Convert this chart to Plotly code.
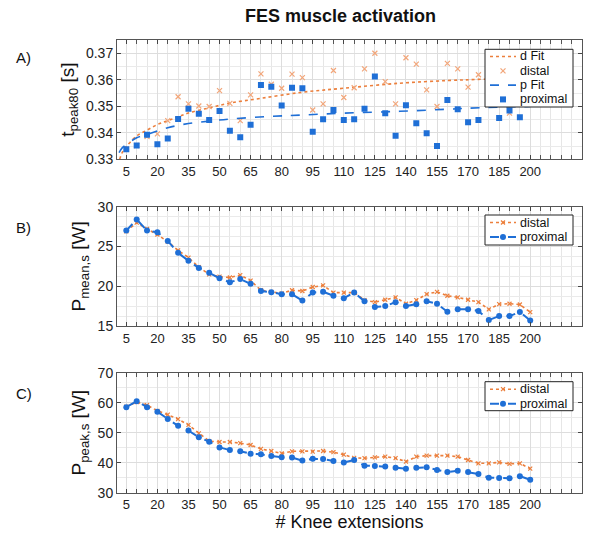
import plotly.graph_objects as go

# ---------------- data ----------------
knee = [5, 10, 15, 20, 25, 30, 35, 40, 45, 50, 55, 60, 65, 70, 75, 80, 85, 90, 95, 100,
        105, 110, 115, 120, 125, 130, 135, 140, 145, 150, 155, 160, 165, 170, 175, 180,
        185, 190, 195, 200]

# Panel A: t_peak80 [s]
t_distal = [0.3338, 0.3352, 0.3386, 0.3396, 0.3446, 0.3536, 0.3509, 0.3501, 0.3499, 0.3559,
            0.3511, 0.3446, 0.3543, 0.3622, 0.3583, 0.3568, 0.3621, 0.3608, 0.3486, 0.3509,
            0.3635, 0.3533, 0.3570, 0.3641, 0.3700, 0.3593, 0.3509, 0.3683, 0.3659, 0.3562,
            0.3499, 0.3662, 0.3641, 0.3572, 0.3619, 0.3580, 0.3620, 0.3474, 0.3560, 0.3600]
t_proximal = [0.3338, 0.3352, 0.3393, 0.3357, 0.3378, 0.3452, 0.3491, 0.3472, 0.3448, 0.3482,
              0.3408, 0.3383, 0.3430, 0.3580, 0.3574, 0.3503, 0.3570, 0.3568, 0.3404, 0.3451,
              0.3486, 0.3448, 0.3451, 0.3491, 0.3612, 0.3474, 0.3389, 0.3504, 0.3436, 0.3398,
              0.3350, 0.3524, 0.3489, 0.3440, 0.3448, 0.3520, 0.3456, 0.3484, 0.3459, 0.3550]

d_fit_x = [1.8, 3, 5, 10, 15, 20, 25, 30, 35, 45, 55, 70, 90, 110, 137, 160, 177, 200]
d_fit_y = [0.3300, 0.3325, 0.3348, 0.3388, 0.3410, 0.3431, 0.3446, 0.3460, 0.3475, 0.3494,
           0.3512, 0.3530, 0.3553, 0.3568, 0.3587, 0.3597, 0.3602, 0.3609]
p_fit_x = [1.5, 3, 5, 10, 15, 25, 35, 45, 55, 75, 90, 110, 137, 160, 177, 200]
p_fit_y = [0.3325, 0.3343, 0.3356, 0.3381, 0.3394, 0.3419, 0.3435, 0.3444, 0.3452, 0.3462,
           0.3467, 0.3474, 0.3481, 0.3489, 0.3495, 0.3499]

# Panel B: P_mean,s [W]
pm_distal = [26.9, 28.0, 27.2, 26.5, 25.6, 24.5, 23.6, 22.4, 21.5, 21.2,
             21.1, 21.4, 20.7, 19.5, 19.3, 19.1, 19.5, 19.4, 19.9, 20.1,
             19.2, 19.2, 19.2, 18.25, 18.0, 18.3, 18.6, 17.8, 18.25, 19.0,
             19.3, 18.8, 18.6, 18.3, 18.0, 17.1, 17.75, 17.8, 17.7, 16.75]
pm_proximal = [27.0, 28.4, 27.0, 26.8, 25.7, 24.2, 23.2, 22.3, 21.7, 21.0,
               20.5, 20.9, 20.3, 19.4, 19.25, 19.0, 19.0, 18.2, 19.2, 19.3,
               18.8, 18.5, 19.2, 18.1, 17.4, 17.5, 18.0, 17.5, 17.75, 18.1,
               17.8, 16.8, 17.1, 17.1, 16.9, 15.75, 16.25, 16.25, 16.75, 15.7]

# Panel C: P_peak,s [W]
pp_distal = [58.7, 60.2, 59.2, 57.3, 56.0, 54.5, 52.6, 49.8, 47.2, 46.9,
             46.9, 46.5, 45.9, 44.6, 43.9, 43.1, 43.8, 43.8, 43.7, 43.9,
             43.5, 42.7, 41.6, 41.5, 41.8, 42.0, 41.5, 40.35, 42.0, 42.35,
             42.35, 42.35, 42.0, 40.9, 39.8, 39.8, 40.1, 39.6, 39.8, 38.0]
pp_proximal = [58.5, 60.5, 58.5, 57.0, 54.6, 52.3, 50.7, 48.5, 47.0, 45.1,
               44.2, 43.8, 43.0, 42.8, 42.2, 41.8, 41.7, 40.7, 41.3, 41.2,
               40.6, 40.1, 40.9, 39.0, 38.9, 38.7, 38.35, 38.0, 38.35, 38.5,
               37.6, 36.9, 37.35, 36.9, 36.2, 35.0, 34.9, 34.8, 35.5, 34.3]

x_tickvals = [5, 20, 35, 50, 65, 80, 95, 110, 125, 140, 155, 170, 185, 200]

legend_a_names = ["d Fit", "distal", "p Fit", "proximal"]
legend_bc_names = ["distal", "proximal"]

# ---------------- styling ----------------
W, H = 600, 555
BLUE = "#1f6fd6"
ORANGE = "#ec7f3c"
ORANGE_LIGHT = "#f2a67a"
FONT = "Liberation Sans, Arial, sans-serif"


def px_x(p):
    return p / W


def px_y(p):
    return 1 - p / H


x_dom = [px_x(117), px_x(582)]
dom_a = [px_y(159.3), px_y(40)]
dom_b = [px_y(326), px_y(206.7)]
dom_c = [px_y(492.7), px_y(372.7)]

fig = go.Figure()

# Panel A
fig.add_trace(go.Scatter(x=d_fit_x, y=d_fit_y, mode="lines", name="d Fit",
                         line=dict(color=ORANGE, width=1.6, dash="dot", shape="spline"),
                         xaxis="x", yaxis="y"))
fig.add_trace(go.Scatter(x=knee, y=t_distal, mode="markers", name="distal",
                         marker=dict(symbol="x-thin", size=5, line=dict(color=ORANGE_LIGHT, width=1.2),
                                     color=ORANGE_LIGHT),
                         xaxis="x", yaxis="y"))
fig.add_trace(go.Scatter(x=p_fit_x, y=p_fit_y, mode="lines", name="p Fit",
                         line=dict(color=BLUE, width=1.6, dash="dash", shape="spline"),
                         xaxis="x", yaxis="y"))
fig.add_trace(go.Scatter(x=knee, y=t_proximal, mode="markers", name="proximal",
                         marker=dict(symbol="square", size=6, color=BLUE),
                         xaxis="x", yaxis="y"))

# Panel B
fig.add_trace(go.Scatter(x=knee, y=pm_distal, mode="lines+markers", name="distal",
                         line=dict(color=ORANGE, width=1.6, dash="dot"),
                         marker=dict(symbol="x-thin", size=4, line=dict(color=ORANGE, width=1.2)),
                         xaxis="x2", yaxis="y2"))
fig.add_trace(go.Scatter(x=knee, y=pm_proximal, mode="lines+markers", name="proximal",
                         line=dict(color=BLUE, width=2, dash="dash"),
                         marker=dict(symbol="circle", size=6, color=BLUE),
                         xaxis="x2", yaxis="y2"))

# Panel C
fig.add_trace(go.Scatter(x=knee, y=pp_distal, mode="lines+markers", name="distal",
                         line=dict(color=ORANGE, width=1.6, dash="dot"),
                         marker=dict(symbol="x-thin", size=4, line=dict(color=ORANGE, width=1.2)),
                         xaxis="x3", yaxis="y3"))
fig.add_trace(go.Scatter(x=knee, y=pp_proximal, mode="lines+markers", name="proximal",
                         line=dict(color=BLUE, width=2, dash="dash"),
                         marker=dict(symbol="circle", size=6, color=BLUE),
                         xaxis="x3", yaxis="y3"))


def xaxis_cfg(anchor, show_title=False):
    d = dict(domain=x_dom, anchor=anchor, range=[0.5, 225],
             tickmode="array", tickvals=x_tickvals, ticks="inside", ticklen=4,
             tickcolor="#444", showline=True, linecolor="#555", linewidth=1, mirror="allticks",
             showgrid=True, gridcolor="#dddddd", gridwidth=1,
             minor=dict(dtick=5, tick0=0, showgrid=True, gridcolor="#e6e6e6", ticks="inside",
                        ticklen=4, tickcolor="#555"),
             tickfont=dict(family=FONT, size=13, color="#222"), zeroline=False)
    if show_title:
        d["title"] = dict(text="# Knee extensions", font=dict(family=FONT, size=18, color="#111"),
                          standoff=4)
    return d


def yaxis_cfg(anchor, dom, rng, dtick, minor_dtick, title, tickformat=None):
    d = dict(domain=dom, anchor=anchor, range=rng, dtick=dtick, tick0=rng[0],
             ticks="inside", ticklen=4, tickcolor="#444",
             showline=True, linecolor="#555", linewidth=1, mirror="ticks",
             showgrid=True, gridcolor="#dddddd", gridwidth=1,
             minor=dict(dtick=minor_dtick, showgrid=True, gridcolor="#eaeaea"),
             tickfont=dict(family=FONT, size=14, color="#222"), zeroline=False,
             title=dict(text=title, font=dict(family=FONT, size=19, color="#111"), standoff=6))
    if tickformat:
        d["tickformat"] = tickformat
    return d


# ---------------- hand-drawn Matlab-style legends ----------------
shapes = []
annotations = []
LEG_L, LEG_R = 485, 573
SAMPLE_L, SAMPLE_R = 490, 516
TEXT_X = 519
LEG_FONT = dict(family=FONT, size=12.5, color="#111")


def box(top, bottom):
    shapes.append(dict(type="rect", xref="paper", yref="paper", layer="above",
                       x0=px_x(LEG_L), x1=px_x(LEG_R), y0=px_y(bottom), y1=px_y(top),
                       fillcolor="white", line=dict(color="#222", width=1)))


def sample_line(yc, color, dash, width):
    shapes.append(dict(type="line", xref="paper", yref="paper", layer="above",
                       x0=px_x(SAMPLE_L), x1=px_x(SAMPLE_R), y0=px_y(yc), y1=px_y(yc),
                       line=dict(color=color, dash=dash, width=width)))


def sample_x(yc, color, r=2.5):
    xc = (SAMPLE_L + SAMPLE_R) / 2
    for dy in (r, -r):
        shapes.append(dict(type="line", xref="paper", yref="paper", layer="above",
                           x0=px_x(xc - r), x1=px_x(xc + r), y0=px_y(yc - dy), y1=px_y(yc + dy),
                           line=dict(color=color, width=1.2)))


def sample_square(yc, color, r=3):
    xc = (SAMPLE_L + SAMPLE_R) / 2
    shapes.append(dict(type="rect", xref="paper", yref="paper", layer="above",
                       x0=px_x(xc - r), x1=px_x(xc + r), y0=px_y(yc + r), y1=px_y(yc - r),
                       fillcolor=color, line=dict(color=color, width=0)))


def sample_circle(yc, color, r=3):
    xc = (SAMPLE_L + SAMPLE_R) / 2
    shapes.append(dict(type="circle", xref="paper", yref="paper", layer="above",
                       x0=px_x(xc - r), x1=px_x(xc + r), y0=px_y(yc + r), y1=px_y(yc - r),
                       fillcolor=color, line=dict(color=color, width=0)))


def label(text, yc):
    annotations.append(dict(text=text, x=px_x(TEXT_X), y=px_y(yc), xref="paper", yref="paper",
                            showarrow=False, xanchor="left", yanchor="middle", font=LEG_FONT,
                            borderpad=0))


# Legend A
box(49.3, 107)
ya = [56.5, 70.8, 85.1, 99.4]
sample_line(ya[0], ORANGE, "dot", 1.6)
sample_x(ya[1], ORANGE_LIGHT)
sample_line(ya[2], BLUE, "dash", 1.6)
sample_square(ya[3], BLUE)
for name, yc in zip(legend_a_names, ya):
    label(name, yc)

# Legends B and C
for top, bottom, y1, y2 in [(215, 245, 222.5, 237), (381.7, 410.7, 389.2, 403.7)]:
    box(top, bottom)
    sample_line(y1, ORANGE, "dot", 1.6)
    sample_x(y1, ORANGE, r=2)
    sample_line(y2, BLUE, "dash", 2)
    sample_circle(y2, BLUE)
    label(legend_bc_names[0], y1)
    label(legend_bc_names[1], y2)

annotations += [
    dict(text="<b>FES muscle activation</b>", x=px_x(340), y=px_y(16), xref="paper", yref="paper",
         showarrow=False, font=dict(family=FONT, size=18, color="#111"), xanchor="center",
         yanchor="middle"),
    dict(text="A)", x=px_x(14), y=px_y(57), xref="paper", yref="paper", showarrow=False,
         font=dict(family=FONT, size=15, color="#111"), xanchor="left", yanchor="middle"),
    dict(text="B)", x=px_x(14), y=px_y(227), xref="paper", yref="paper", showarrow=False,
         font=dict(family=FONT, size=15, color="#111"), xanchor="left", yanchor="middle"),
    dict(text="C)", x=px_x(14), y=px_y(393), xref="paper", yref="paper", showarrow=False,
         font=dict(family=FONT, size=15, color="#111"), xanchor="left", yanchor="middle"),
]

fig.update_layout(
    width=W, height=H,
    margin=dict(l=0, r=0, t=0, b=0, autoexpand=False),
    paper_bgcolor="white", plot_bgcolor="white",
    font=dict(family=FONT, color="#111"),
    showlegend=False,
    hovermode=False,
    xaxis=xaxis_cfg("y"),
    yaxis=yaxis_cfg("x", dom_a, [0.33, 0.375], 0.01, 0.005, "t<sub>peak80</sub> [s]", ".2f"),
    xaxis2=xaxis_cfg("y2"),
    yaxis2=yaxis_cfg("x2", dom_b, [15, 30], 5, 1.25, "P<sub>mean,s</sub> [W]"),
    xaxis3=xaxis_cfg("y3", show_title=True),
    yaxis3=yaxis_cfg("x3", dom_c, [30, 70], 10, 5, "P<sub>peak,s</sub> [W]"),
    shapes=shapes,
    annotations=annotations,
)

fig.write_html("out.html", config={"displayModeBar": False},
               post_script="document.body.style.margin='0';")
